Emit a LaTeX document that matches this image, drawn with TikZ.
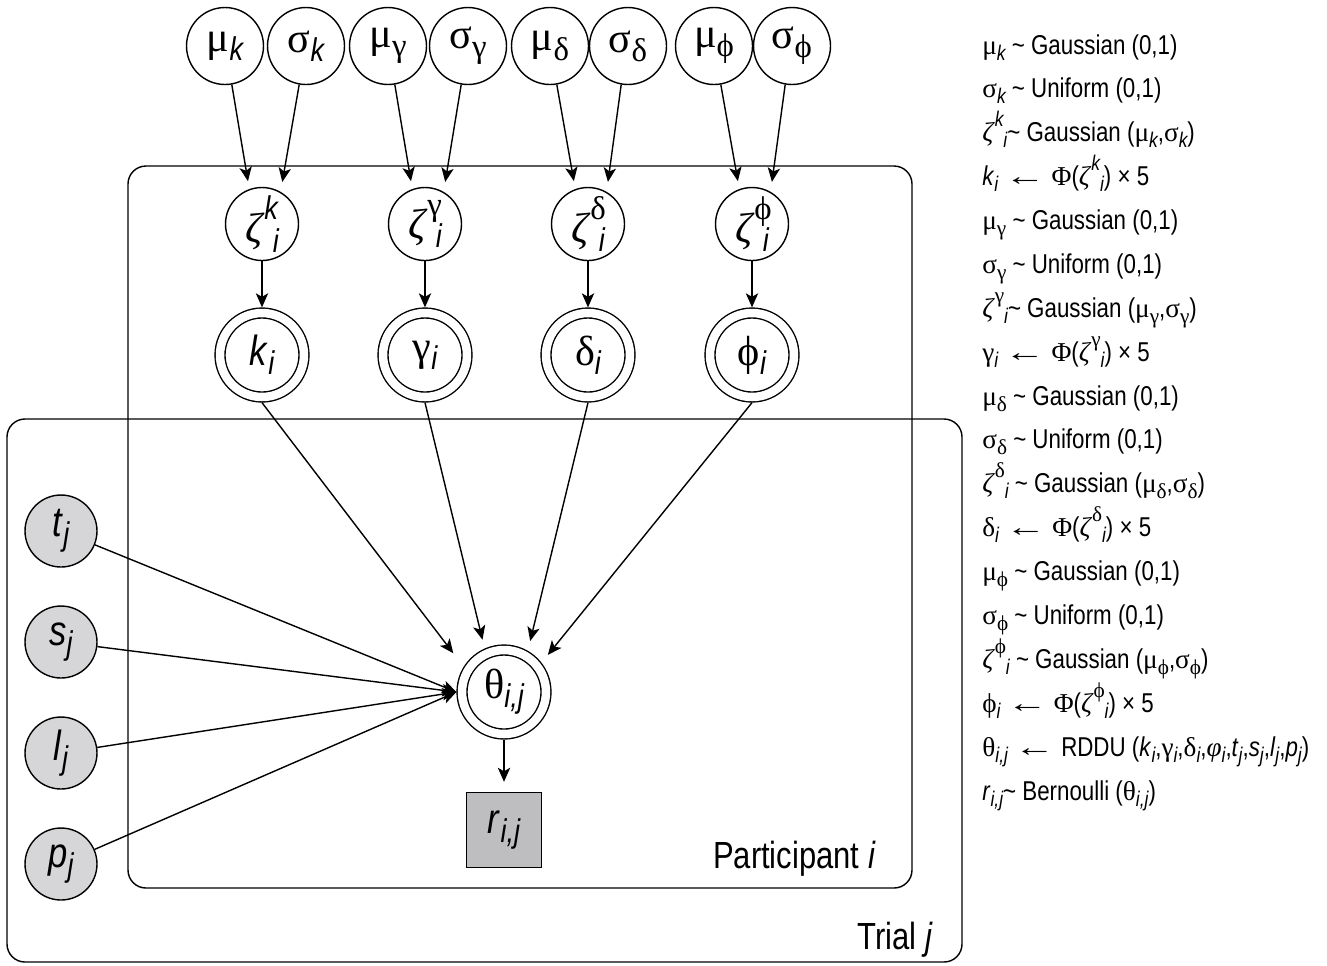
\documentclass[tikz,border=0pt]{standalone}
\usepackage{fontspec}
\setmainfont{Liberation Sans}[FakeStretch=0.82]
\newfontfamily\gk{Liberation Serif}
\usetikzlibrary{arrows.meta}
\definecolor{obsgray}{HTML}{D6D6D8}
\definecolor{respgray}{HTML}{BEBEC0}
\newcommand\dn[1]{\raisebox{-0.22em}{\scalebox{0.78}{#1}}}
\newcommand\up[1]{\raisebox{0.55em}{\scalebox{0.78}{#1}}}
\newcommand\zt{{\gk\itshape ζ}}
\newcommand\zsn[1]{\zt\hspace{0.05em}\makebox[0pt][l]{\up{#1}}\hspace{0.2em}\dn{\itshape i}}
\newcommand\zsl[1]{\zt\hspace{0.05em}\up{#1}\dn{\itshape i}}
\newcommand\tl{\textasciitilde}
\newcommand\la{\scalebox{1.5}[1]{\gk ←}}
\tikzset{
  base/.style={draw, line width=0.8pt, inner sep=0pt, font=\fontsize{24}{26}\selectfont},
  topn/.style={base, circle, minimum size=1.54cm, fill=white},
  zn/.style={base, circle, minimum size=1.46cm, fill=white},
  detn/.style={base, circle, minimum size=1.68cm, double, double distance=0.17cm, outer sep=0.113cm, fill=white},
  obs/.style={base, circle, minimum size=1.44cm, fill=obsgray},
  resp/.style={base, rectangle, minimum size=1.5cm, fill=respgray},
  plate/.style={line width=0.8pt, rounded corners=0.36cm},
  arr/.style={-{Stealth[length=8pt,width=7pt,inset=2pt]}, line width=0.8pt},
  lst/.style={anchor=base west, font=\fontsize{15.5}{17}\selectfont, inner sep=0pt},
  lab/.style={anchor=base east, font=\fontsize{21.5}{24}\selectfont, inner sep=0pt}
}
\begin{document}
\begin{tikzpicture}[x=0.02cm,y=-0.02cm]
\useasboundingbox (0,0) rectangle (1327,965);
% plates
\draw[plate] (128,166) rectangle (912,888);
\draw[plate] (7,419) rectangle (962,962);
\node[lab] (plab) at (876,868) {Participant \textit{i}};
\node[lab] (tlab) at (933,949) {Trial \textit{j}};
% top hyper nodes
\node[topn] (muk) at (225,46) {{\gk μ}\dn{\itshape k}};
\node[topn] (sik) at (306,46) {{\gk σ}\dn{\itshape k}};
\node[topn] (mug) at (388,46) {{\gk μ}\dn{\gk γ}};
\node[topn] (sig) at (468,46) {{\gk σ}\dn{\gk γ}};
\node[topn] (mud) at (550,46) {{\gk μ}\dn{\gk δ}};
\node[topn] (sid) at (628,46) {{\gk σ}\dn{\gk δ}};
\node[topn] (mup) at (714,46) {{\gk μ}\dn{\gk ϕ}};
\node[topn] (sip) at (792,46) {{\gk σ}\dn{\gk ϕ}};
% zeta nodes
\node[zn] (zk) at (262,224) {\zsn{\itshape k}};
\node[zn] (zg) at (425,224) {\zsn{\gk γ}};
\node[zn] (zd) at (588,224) {\zsn{\gk δ}};
\node[zn] (zp) at (752,224) {\zsn{\gk ϕ}};
% deterministic nodes
\node[detn] (k) at (262,355) {\textit{k}\dn{\itshape i}};
\node[detn] (g) at (425,355) {{\gk γ}\dn{\itshape i}};
\node[detn] (d) at (588,355) {{\gk δ}\dn{\itshape i}};
\node[detn] (p) at (752,355) {{\gk ϕ}\dn{\itshape i}};
\node[detn] (th) at (504,692) {{\gk θ}\dn{\itshape i,j}};
% observed
\node[obs] (tj) at (61,531) {\textit{t}\dn{\itshape j}};
\node[obs] (sj) at (61,642) {\textit{s}\dn{\itshape j}};
\node[obs] (lj) at (61,753) {\textit{l}\dn{\itshape j}};
\node[obs] (pj) at (61,864) {\textit{p}\dn{\itshape j}};
\node[resp] (r) at (504,830) {\textit{r}\dn{\itshape i,j}};
% arrows top
\foreach \m/\s/\z in {muk/sik/zk, mug/sig/zg, mud/sid/zd, mup/sip/zp}{
  \draw[arr, shorten >=0.16cm] (\m.280) -- (\z.110);
  \draw[arr, shorten >=0.2cm] (\s.260) -- (\z.60);
}
\foreach \z/\q in {zk/k, zg/g, zd/d, zp/p}{
  \draw[arr] (\z.south) -- (\q.north);
}
\draw[arr, shorten >=0.34cm] (k.south) -- (th.148);
\draw[arr, shorten >=0.18cm] (g.south) -- (th.114);
\draw[arr, shorten >=0.2cm] (d.south) -- (th.60);
\draw[arr, shorten >=0.2cm] (p.south) -- (th.38);
\foreach \o in {tj,sj,lj,pj}{
  \draw[arr] (\o) -- (th.west);
}
\draw[arr, shorten >=0.2cm] (th.south) -- (r.north);
% list
\node[lst] (l1) at (982,54.0) {{\gk μ}\dn{\itshape k} \tl{} Gaussian (0,1)};
\node[lst] (l2) at (982,97.9) {{\gk σ}\dn{\itshape k} \tl{} Uniform (0,1)};
\node[lst] (l3) at (982,141.8) {\zsl{\itshape k}\tl{} Gaussian ({\gk μ}\dn{\itshape k},{\gk σ}\dn{\itshape k})};
\node[lst] (l4) at (982,185.6) {\textit{k}\dn{\itshape i} \la{} {\gk Φ}(\zsl{\itshape k}) × 5};
\node[lst] (l5) at (982,229.5) {{\gk μ}\dn{\gk γ} \tl{} Gaussian (0,1)};
\node[lst] (l6) at (982,273.4) {{\gk σ}\dn{\gk γ} \tl{} Uniform (0,1)};
\node[lst] (l7) at (982,317.3) {\zsl{\gk γ}\tl{} Gaussian ({\gk μ}\dn{\gk γ},{\gk σ}\dn{\gk γ})};
\node[lst] (l8) at (982,361.2) {{\gk γ}\dn{\itshape i} \la{} {\gk Φ}(\zsl{\gk γ}) × 5};
\node[lst] (l9) at (982,405.0) {{\gk μ}\dn{\gk δ} \tl{} Gaussian (0,1)};
\node[lst] (l10) at (982,448.9) {{\gk σ}\dn{\gk δ} \tl{} Uniform (0,1)};
\node[lst] (l11) at (982,492.8) {\zsl{\gk δ} \tl{} Gaussian ({\gk μ}\dn{\gk δ},{\gk σ}\dn{\gk δ})};
\node[lst] (l12) at (982,536.7) {{\gk δ}\dn{\itshape i} \la{} {\gk Φ}(\zsl{\gk δ}) × 5};
\node[lst] (l13) at (982,580.6) {{\gk μ}\dn{\gk ϕ} \tl{} Gaussian (0,1)};
\node[lst] (l14) at (982,624.4) {{\gk σ}\dn{\gk ϕ} \tl{} Uniform (0,1)};
\node[lst] (l15) at (982,668.3) {\zsl{\gk ϕ} \tl{} Gaussian ({\gk μ}\dn{\gk ϕ},{\gk σ}\dn{\gk ϕ})};
\node[lst] (l16) at (982,712.2) {{\gk ϕ}\dn{\itshape i} \la{} {\gk Φ}(\zsl{\gk ϕ}) × 5};
\node[lst] (l17) at (982,756.1) {{\gk θ}\dn{\itshape i,j} \la{} RDDU (\textit{k}\dn{\itshape i},{\gk γ}\dn{\itshape i},{\gk δ}\dn{\itshape i},{\gk\itshape φ}\dn{\itshape i},\textit{t}\dn{\itshape j},\textit{s}\dn{\itshape j},\textit{l}\dn{\itshape j},\textit{p}\dn{\itshape j})};
\node[lst] (l18) at (982,800.0) {\textit{r}\dn{\itshape i,j}\tl{} Bernoulli ({\gk θ}\dn{\itshape i,j})};
\end{tikzpicture}
\end{document}
